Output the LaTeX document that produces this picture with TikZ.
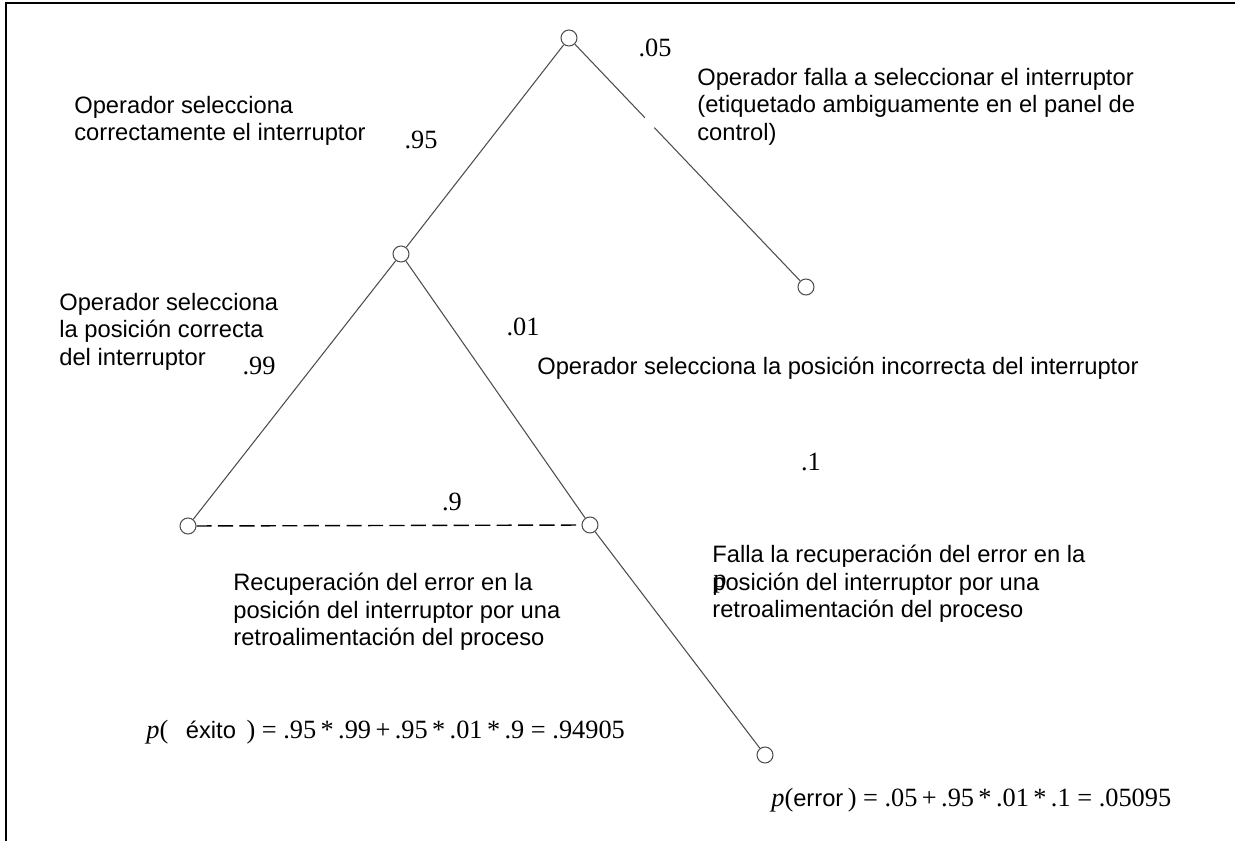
\documentclass[tikz,border=0pt]{standalone}
\usepackage{fontspec}
\setmainfont{Liberation Sans}
\newfontfamily\tnr{Liberation Serif}
\usetikzlibrary{calc}
\definecolor{ramas}{gray}{0.3}

\begin{document}
\begin{tikzpicture}[x=0.02cm,y=-0.02cm,
    nodo/.style={circle,draw=ramas,fill=white,minimum size=0.32cm,inner sep=0pt,line width=0.6pt},
    texto/.style={anchor=north west,align=left,inner sep=0pt,font=\fontsize{13.5}{15.5}\selectfont},
    prob/.style={inner sep=0pt,font=\tnr\fontsize{15}{17}\selectfont},
    rama/.style={draw=ramas,line width=0.6pt}]
  \useasboundingbox (0,0) rectangle (1235,841);
  \draw[line width=1.2pt] (6,841) -- (6,3) -- (1235,3);
  % nodos del arbol
  \node[nodo] (a) at (569,38) {};
  \node[nodo] (b) at (401,254) {};
  \node[nodo] (c) at (806,287) {};
  \node[nodo] (d) at (188,526) {};
  \node[nodo] (e) at (590,525) {};
  \node[nodo] (f) at (765,755) {};
  % ramas
  \draw[rama] (a) -- (b);
  \draw[rama] (a) -- ($(a)!0.32!(c)$);
  \draw[rama] ($(a)!0.36!(c)$) -- (c);
  \draw[rama] (b) -- (d);
  \draw[rama] (b) -- (e);
  \draw[rama] (e) -- (f);
  \draw[black,line width=0.8pt,dash pattern=on 8.6pt off 3.6pt] (d) -- (e);
  % probabilidades
  \node[prob] (p05) at (655,48) {.05};
  \node[prob] (p95) at (421,140) {.95};
  \node[prob] (p01) at (523,327) {.01};
  \node[prob] (p99) at (259,366) {.99};
  \node[prob] (p1) at (811,462) {.1};
  \node[prob] (p9) at (452,502) {.9};
  % textos
  \node[texto] (t1) at (74,96) {Operador selecciona\\correctamente el interruptor};
  \node[texto] (t2) at (697,68) {Operador falla a seleccionar el interruptor\\(etiquetado ambiguamente en el panel de\\control)};
  \node[texto] (t3) at (59,293) {Operador selecciona\\la posición correcta\\del interruptor};
  \node[texto] (t4) at (537,357) {Operador selecciona la posición incorrecta del interruptor};
  \node[texto] (t5) at (233,573) {Recuperación del error en la\\posición del interruptor por una\\retroalimentación del proceso};
  \node[texto] (t6) at (712,545) {Falla la recuperación del error en la\\posición del interruptor por una\\retroalimentación del proceso};
  \node[prob,anchor=west] (pp) at (713,584) {p};
  % formulas
  \node[prob,anchor=west] (exito) at (146,732) {{\itshape p}(\hspace{10pt}{\fontspec{Liberation Sans}\fontsize{13.5}{15.5}\selectfont éxito}\hspace{6pt}) = .95\,*\,.99\,+\,.95\,*\,.01\,*\,.9 = .94905};
  \node[prob,anchor=west] (error) at (771,800) {{\itshape p}({\fontspec{Liberation Sans}\fontsize{13.5}{15.5}\selectfont error}\,) = .05\,+\,.95\,*\,.01\,*\,.1 = .05095};
\end{tikzpicture}
\end{document}
